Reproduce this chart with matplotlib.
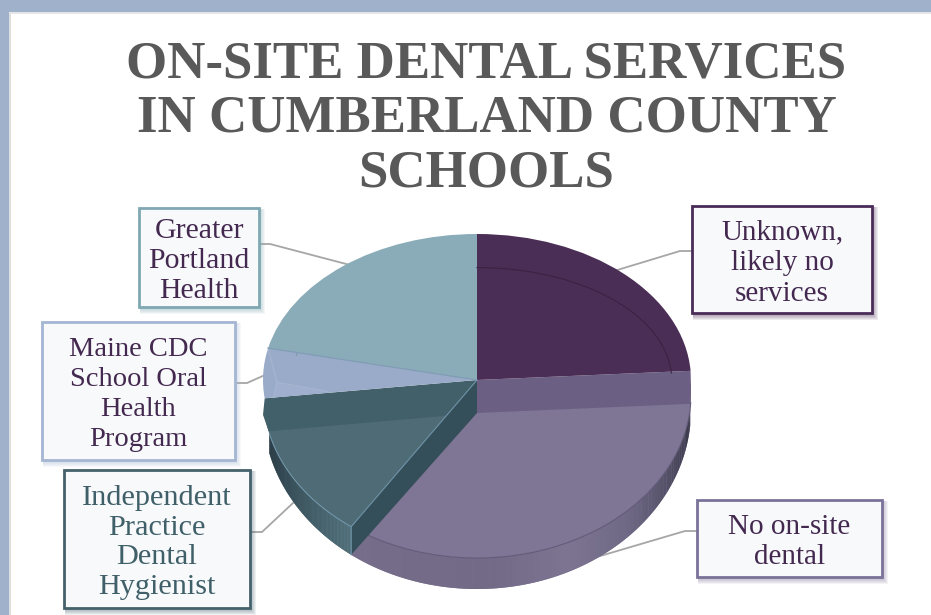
"""On-site dental services pie, tilted, with callout boxes around it."""

import matplotlib
matplotlib.use("Agg")
import matplotlib.pyplot as plt
import numpy as np
from matplotlib.colors import to_rgb
from matplotlib.patches import Rectangle

TITLE = "ON-SITE DENTAL SERVICES\nIN CUMBERLAND COUNTY\nSCHOOLS"

# clockwise from 12 o'clock, estimated shares in percent
CATEGORIES = ["Unknown,\nlikely no\nservices", "No on-site\ndental",
              "Independent\nPractice\nDental\nHygienist",
              "Maine CDC\nSchool Oral\nHealth\nProgram",
              "Greater\nPortland\nHealth"]
SHARES = [24, 36, 13, 5.5, 21.5]

FACE = ["#4b2e55", "#7f7595", "#4f6b75", "#9aabc9", "#8aacb8"]
EDGE = ["#4a2c58", "#7a7299", "#45626c", "#a5b6d3", "#7fa8b3"]
TEXT = ["#43284f", "#43284f", "#3f5f69", "#43284f", "#43284f"]
LABEL_SIZE = [21, 21, 21.8, 20.5, 21.5]

W, H = 931, 615
CX, RX = 477, 214
BACK_CY, BACK_RY = 380, 146     # upper level, back slices
FRONT_CY, FRONT_RY = 394, 164   # lower level, front slices
RIM_CY, RIM_RY = 410, 179       # bottom outline
DROP = 33                       # height of the cut walls in pixels

fig = plt.figure(figsize=(W / 100, H / 100), dpi=100, facecolor="white")

# pixel axes for frame, leaders, boxes
base = fig.add_axes([0, 0, 1, 1])
base.set_xlim(0, W)
base.set_ylim(H, 0)
base.axis("off")

base.add_patch(Rectangle((0, 0), W, 12, fc="#a0b1cc", ec="none"))
base.add_patch(Rectangle((0, 0), 9, H, fc="#a0b1cc", ec="none"))
base.add_patch(Rectangle((9, 12), 2, H, fc="#dedede", ec="none"))
base.add_patch(Rectangle((9, 12), W, 2, fc="#e6e6e6", ec="none"))

base.text(486.5, 119, TITLE, ha="center", va="center", family="Liberation Serif",
          fontweight="bold", fontsize=38.1, color="#595959", linespacing=1.17)

BOXES = [(692, 206, 180, 107), (697, 500, 185, 77), (64, 470, 186, 138),
         (42, 322, 193, 138), (139, 208, 120, 99)]
LEADERS = [[(692, 251), (680, 251), (614, 271)],
           [(697, 531), (685, 531), (590, 559)],
           [(250, 532), (262, 532), (293, 503)],
           [(236, 383), (247, 383), (265, 375)],
           [(259, 244), (270, 244), (350, 265)]]

for pts in LEADERS:
    xs, ys = zip(*pts)
    base.plot(xs, ys, color="#a6a6a6", lw=1.3, zorder=1)

for (x, y, w, h), ec, tc, label, fs in zip(BOXES, EDGE, TEXT, CATEGORIES, LABEL_SIZE):
    for k in range(5, 0, -1):
        base.add_patch(Rectangle((x + 1, y + 1), w + k, h + k + 1, fc=ec, ec="none",
                                 alpha=0.09, zorder=2))
    base.add_patch(Rectangle((x, y), w, h, fc="#f8f9fb", ec=ec, lw=2, zorder=3))
    base.text(x + w / 2, y + h / 2 + 3.5, label, ha="center", va="center", color=tc,
              family="Liberation Serif", fontsize=fs, linespacing=26 / fs, zorder=4)


def pie_axes(cy, ry, z):
    a = fig.add_axes([0, 0, 1, 1], zorder=z)
    a.patch.set_visible(False)
    return a, cy, ry


def finish(a, cy, ry):
    a.set_aspect("auto")
    a.set_xlim(-CX / RX, (W - CX) / RX)
    a.set_ylim((cy - H) / ry, cy / ry)
    a.axis("off")


def arc(t0, t1, sx=1.0, sy=1.0, n=80):
    t = np.radians(np.linspace(t0, t1, n))
    return sx * np.cos(t), sy * np.sin(t)


def ramp(frac, stops):
    pos = np.linspace(0, 1, len(stops))
    rgb = np.array([to_rgb(c) for c in stops])
    return [np.interp(frac, pos, rgb[:, i]) for i in range(3)]


def front_v(py):
    return (FRONT_CY - py) / FRONT_RY


def rim_xy(t):
    r = np.radians(t)
    return np.cos(r), front_v(RIM_CY - RIM_RY * np.sin(r))


ends = 90 - 3.6 * np.cumsum(SHARES)
starts = np.r_[90, ends[:-1]]

front, *f_par = pie_axes(FRONT_CY, FRONT_RY, 5)
back, *b_par = pie_axes(BACK_CY, BACK_RY, 6)


def rim(t0, t1, stops):
    # solid underlay first so the gradient strips leave no seams
    xa, ya = arc(t0, t1, n=120)
    xb, yb = rim_xy(np.linspace(t1, t0, 120))
    front.fill(np.r_[xa, xb], np.r_[ya, yb], color=ramp(0.5, stops), lw=0)
    t = np.linspace(t0, t1, 81)
    for i in range(80):
        xa, ya = arc(t[i], t[i + 1], n=4)
        xb, yb = rim_xy(np.linspace(t[i + 1], t[i], 4))
        front.fill(np.r_[xa, xb], np.r_[ya, yb], color=ramp(i / 79, stops), lw=0)


# rim of the two front slices
rim(-5, ends[1], ["#363546", "#514e64", "#6f6985", "#7c7491", "#736a87", "#746b88", "#766d8a"])
rim(ends[1], -166, ["#567580", "#46626c", "#364c56", "#27363f"])

# front slices
wedges, _ = front.pie(SHARES, colors=FACE, startangle=90, counterclock=False, radius=1,
                      center=(0, 0), wedgeprops={"linewidth": 0})
for i, wd in enumerate(wedges):
    wd.set_visible(i in (1, 2))
    wd.set_zorder(3)
xl, yl = arc(-3, ends[1])
front.plot(xl, yl, color="#625a78", lw=0.8, zorder=3.1)
xl, yl = arc(ends[1], -166)
front.plot(xl, yl, color="#6f94a8", lw=0.8, zorder=3.1)


def back_y(t):
    return BACK_CY - BACK_RY * np.sin(np.radians(t))


# cut walls between the two levels, in pixels along the slice edges
for ang, col in [(ends[0], "#6b6083"), (ends[2], "#426069")]:
    sign = np.sign(np.cos(np.radians(ang)))
    top = back_y(ang)
    low = top + DROP
    xlow = sign * np.sqrt(1 - front_v(low) ** 2)
    xs = [0, np.cos(np.radians(ang)), sign, xlow, 0]
    ys = [BACK_CY, top, (top + low) / 2, low, BACK_CY + DROP]
    front.fill(xs, [front_v(y) for y in ys], color=col, lw=0, zorder=4)

# wall of the slice nearest the viewer
c = np.cos(np.radians(ends[1]))
tip = FRONT_CY - FRONT_RY * np.sin(np.radians(ends[1]))
rim_x, rim_v = rim_xy(ends[1])
wx = [0, c, rim_x, 0]
wv = [front_v(BACK_CY), front_v(tip), rim_v, front_v(BACK_CY + DROP)]
front.fill(wx, wv, color="#344f5a", lw=0, zorder=4.5)
front.plot(wx[:3], wv[:3], color="#6f94a8", lw=0.8, zorder=4.6)

# back slices
wedges, _ = back.pie(SHARES, colors=FACE, startangle=90, counterclock=False, radius=1,
                     center=(0, 0), wedgeprops={"linewidth": 0})
for i, wd in enumerate(wedges):
    wd.set_visible(i in (0, 3, 4))
    wd.set_zorder(6)

# bevel lines inside the back slices
xl, yl = arc(starts[0], ends[0], sx=0.91, sy=0.77)
back.plot(xl, yl, color="#3a2343", lw=0.8, zorder=6.1)
xl, yl = arc(starts[4], ends[3] - 1, sx=0.865, sy=0.77)
back.plot(xl, yl, color="#7a9aa6", lw=0.8, zorder=6.1)

ux, uy = arc(ends[3], ends[3], n=1)
ix, iy = arc(181, 181, sx=0.935, sy=0.935, n=1)
qx, qy = arc(186.5, 186.5, sx=0.70, sy=0.70, n=1)
lx, ly = arc(ends[2], ends[2], sx=0.96, sy=0.96, n=1)
back.fill([ix[0], qx[0], lx[0]], [iy[0], qy[0], ly[0]], color="#a0afcd", lw=0, zorder=6.05)
back.plot([ux[0], ix[0], qx[0]], [uy[0], iy[0], qy[0]], color="#a6b5d0", lw=0.8, zorder=6.1)
back.plot([ix[0], lx[0]], [iy[0], ly[0]], color="#a6b5d0", lw=0.8, zorder=6.1)
back.plot([0, ux[0]], [0, uy[0]], color="#7f9cb4", lw=0.9, zorder=6.2)

finish(front, *f_par)
finish(back, *b_par)

fig.savefig("out.png", dpi=100)
